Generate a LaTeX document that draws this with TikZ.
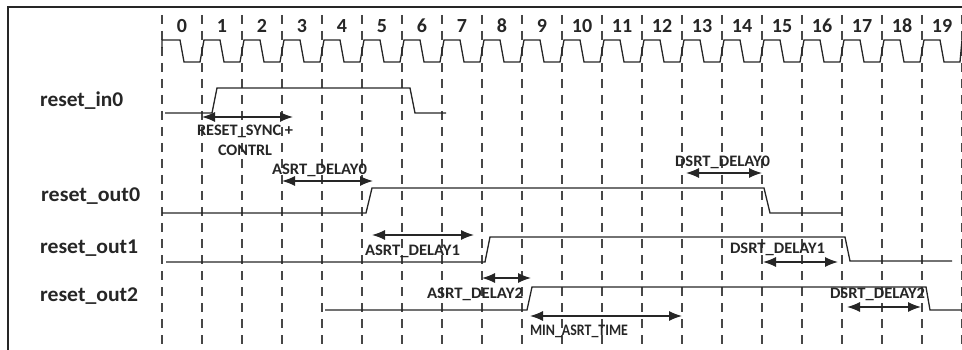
\documentclass[tikz,border=0pt]{standalone}
\usepackage{fontspec}
\usepackage{graphicx}
\setmainfont{Carlito}
\usetikzlibrary{arrows.meta}
\definecolor{ink}{HTML}{262626}
\newcommand{\fitw}[2]{\resizebox{#1pt}{\height}{#2}}
\tikzset{
  wave/.style={draw=ink, line width=1.3pt, line join=miter},
  grid/.style={draw=ink!85, line width=1.3pt, dash pattern=on 9pt off 7pt},
  dim/.style={draw=ink, line width=1.3pt, {Latex[length=13pt,width=10pt]}-{Latex[length=13pt,width=10pt]}},
  siglabel/.style={anchor=base west, inner sep=0pt, font=\fontsize{21}{21}\selectfont\bfseries, text=ink},
  note/.style={anchor=base, inner sep=0pt, font=\fontsize{16}{16}\selectfont\bfseries, text=ink},
  cyc/.style={anchor=base, inner sep=0pt, font=\fontsize{20}{20}\selectfont\bfseries, text=ink}
}
\begin{document}
\begin{tikzpicture}[x=1pt,y=-1pt]
\useasboundingbox (0,0) rectangle (962,350);
% frame
\draw[ink, line width=1.5pt] (8,350) -- (8,7) -- (962,7);
% dashed cycle boundaries and cycle numbers
\foreach \k in {0,...,20} {
  \draw[grid] ({162+40*\k},15) -- ({162+40*\k},350);
}
\foreach \k in {0,...,19} {
  \node[cyc] (c\k) at ({182+40*\k},33) {\k};
}
% clock
\draw[wave] (162,48) -- (162,40)
  \foreach \k in {0,...,19} { -- ({162+40*\k+2},40) -- ({162+40*\k+18},40) -- ({162+40*\k+22},62) -- ({162+40*\k+38},62) }
  -- (962,40);
% signal labels
\node[siglabel] (lin0)  at (40,107) {\fitw{83}{reset\_in0}};
\node[siglabel] (lout0) at (41,202) {\fitw{99}{reset\_out0}};
\node[siglabel] (lout1) at (40,253) {\fitw{98}{reset\_out1}};
\node[siglabel] (lout2) at (40,301) {\fitw{98}{reset\_out2}};
% waveforms
\draw[wave] (165,113) -- (212,113) -- (217,88) -- (410,88) -- (415,113) -- (446,113);
\draw[wave] (162,213) -- (366,213) -- (372,188) -- (764,188) -- (770,213) -- (842,213);
\draw[wave] (166,262) -- (485,262) -- (490,237) -- (845,237) -- (850,261) -- (952,261);
\draw[wave] (325,310) -- (527,310) -- (532,287) -- (926,287) -- (930,310) -- (962,310);
% dimension arrow end points
\coordinate (rs1) at (202,117); \coordinate (rs2) at (293,117);
\coordinate (a01) at (282,181); \coordinate (a02) at (373,181);
\coordinate (d01) at (686,173); \coordinate (d02) at (762,173);
\coordinate (a11) at (372,235); \coordinate (a12) at (474,235);
\coordinate (d11) at (763,262); \coordinate (d12) at (838,262);
\coordinate (a21) at (482,278); \coordinate (a22) at (531,278);
\coordinate (m1)  at (530,316); \coordinate (m2)  at (682,316);
\coordinate (d21) at (847,307); \coordinate (d22) at (921,307);
\draw[dim] (rs1) -- (rs2);
\draw[dim] (a01) -- (a02);
\draw[dim] (d01) -- (d02);
\draw[dim] (a11) -- (a12);
\draw[dim] (d11) -- (d12);
\draw[dim] (a21) -- (a22);
\draw[dim] (m1) -- (m2);
\draw[dim] (d21) -- (d22);
% notes
\node[note] (nrs1) at (245,136) {\fitw{96}{RESET\_SYNC +}};
\node[note] (nrs2) at (245,156) {\fitw{54}{CONTRL}};
\node[note] (na0) at (319.5,175) {\fitw{95}{ASRT\_DELAY0}};
\node[note] (nd0) at (722.5,167) {\fitw{95}{DSRT\_DELAY0}};
\node[note] (na1) at (412.5,255) {\fitw{95}{ASRT\_DELAY1}};
\node[note] (nd1) at (777.5,253) {\fitw{95}{DSRT\_DELAY1}};
\node[note] (na2) at (475,298) {\fitw{96}{ASRT\_DELAY2}};
\node[note] (nm)  at (579,335) {\fitw{98}{MIN\_ASRT\_TIME}};
\node[note] (nd2) at (877.5,298) {\fitw{95}{DSRT\_DELAY2}};
\end{tikzpicture}
\end{document}
